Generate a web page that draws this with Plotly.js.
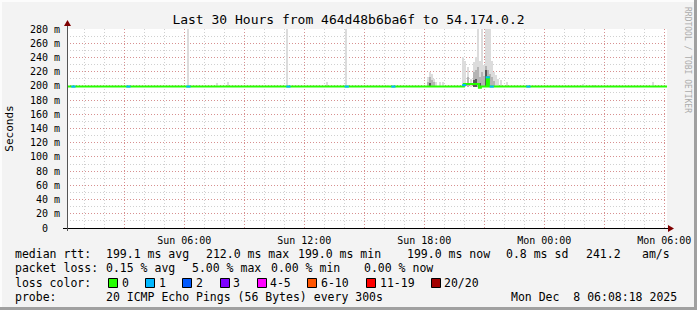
<!DOCTYPE html>
<html><head><meta charset="utf-8">
<script src="https://cdn.plot.ly/plotly-3.0.1.min.js"></script>
<style>
html,body{margin:0;padding:0;background:#f3f3f3;}
#wrap{position:relative;width:697px;height:310px;overflow:hidden;}
#chart{width:697px;height:310px;}
.edge{position:absolute;}
</style></head><body>
<div id="wrap"><div id="chart"></div>
<div class="edge" style="left:0;top:0;width:697px;height:2px;background:#fcfcfc"></div>
<div class="edge" style="left:0;top:0;width:2px;height:310px;background:#fcfcfc"></div>
<div class="edge" style="right:0;top:0;width:3px;height:310px;background:#a0a0a0"></div>
<div class="edge" style="left:0;bottom:0;width:697px;height:3px;background:#a0a0a0"></div>
</div>
<script>
// ---------------- data ----------------
const rangeStart = '2025-12-07 00:08:18';
const rangeEnd = '2025-12-08 06:08:18';
const stepSeconds = 300;

const medianTimes = ['2025-12-07 00:08:18','2025-12-07 19:59','2025-12-07 20:44','2025-12-07 20:50','2025-12-07 21:08','2025-12-07 21:14','2025-12-08 06:08:18'];
const medianValues = [199, 202.5, 197.5, 199, 212, 199, 199];

const lossTimes = ['2025-12-07 00:25','2025-12-07 03:10','2025-12-07 06:10','2025-12-07 11:10','2025-12-07 14:05','2025-12-07 16:25','2025-12-07 19:57','2025-12-07 21:08','2025-12-07 21:20','2025-12-07 23:10'];
const lossRtt = [199, 199, 199, 199, 199, 199, 201, 212, 199, 199];
const lossCount = [1, 1, 1, 1, 1, 1, 1, 1, 1, 1];

const smokeTimes = ['2025-12-07 06:11','2025-12-07 07:38','2025-12-07 08:11','2025-12-07 11:08','2025-12-07 13:08','2025-12-07 14:05','2025-12-07 16:11',
  '2025-12-07 18:11','2025-12-07 18:17','2025-12-07 18:23','2025-12-07 18:29','2025-12-07 18:35','2025-12-07 18:47','2025-12-07 18:56',
  '2025-12-07 19:56','2025-12-07 20:02','2025-12-07 20:11','2025-12-07 20:20','2025-12-07 20:29','2025-12-07 20:35','2025-12-07 20:41',
  '2025-12-07 20:47','2025-12-07 20:53','2025-12-07 20:59','2025-12-07 21:05','2025-12-07 21:11','2025-12-07 21:17','2025-12-07 21:23',
  '2025-12-07 21:29','2025-12-07 21:35','2025-12-07 21:41','2025-12-07 21:50','2025-12-07 22:08','2025-12-08 01:56','2025-12-08 02:29','2025-12-08 05:26'];
const smokeBase  = [199,199,199,199,199,199,199, 199,199,199,199,199,199,199, 199,199,199,199,199,199,199, 197,199,199,199,199,199,199, 199,199,199,199,199,199,199,199];
const smokeLight = [290,204,206,290,206,290,201.5, 212,219,216,210,206,206,205, 240,235,226,210,233,240,290, 235,290,230,290,290,290,235, 219,215,210,208,206,202.5,201.5,205.5];
const smokeMid   = [null,null,null,null,null,null,null, 205,212,208,205,null,null,null, null,null,212,null,220,222,226, 212,220,214,228,222,216,212, 207,null,null,null,null,null,null,null];
const smokeDark  = [null,null,null,null,null,null,null, null,204,null,null,null,null,null, null,null,null,null,208,210,null, 204,null,null,222,null,null,null, null,null,null,null,null,null,null,null];

const yTickVals = [0,20,40,60,80,100,120,140,160,180,200,220,240,260,280];
const yTickText = ['','20 m','40 m','60 m','80 m','100 m','120 m','140 m','160 m','180 m','200 m','220 m','240 m','260 m','280 m'];
const yZeroLabel = '0';
const xTickVals = ['2025-12-07 03:00','2025-12-07 06:00','2025-12-07 09:00','2025-12-07 12:00','2025-12-07 15:00','2025-12-07 18:00','2025-12-07 21:00','2025-12-08 00:00','2025-12-08 03:00','2025-12-08 06:00'];
const xTickText = ['','Sun 06:00','','Sun 12:00','','Sun 18:00','','Mon 00:00','','Mon 06:00'];

const lossLegendLabels = ['0','1','2','3','4-5','6-10','11-19','20/20'];
const lossLegendColors = ['#26ff00','#00b8ff','#0059ff','#7e00ff','#ff00ff','#ff5500','#ff0000','#a10000'];

const titleText = 'Last 30 Hours from 464d48b6ba6f to 54.174.0.2';
const statRows = [
  ['median rtt:', '199.1 ms avg', '212.0 ms max', '199.0 ms min', '199.0 ms now', '0.8 ms sd', '241.2', 'am/s'],
  ['packet loss:', '0.15 % avg', '5.00 % max', '0.00 % min', '0.00 % now'],
  ['probe:', '20 ICMP Echo Pings (56 Bytes) every 300s', 'Mon Dec  8 06:08:18 2025']
];

// ---------------- layout helpers ----------------
const L = 67, R = 667, T = 29, B = 228;
const px2x = p => (p - L) / (R - L);
const py2y = p => (B - p) / (B - T);
const MONO = 'DejaVu Sans Mono';

function addSec(s, sec) {
  const d = new Date(s.replace(' ', 'T') + (s.length === 16 ? ':00Z' : 'Z'));
  return new Date(d.getTime() + sec * 1000).toISOString().replace('T', ' ').slice(0, 19);
}

// ---------------- traces ----------------
const traces = [];
function smokeTrace(tops, color) {
  const xs = [], bs = [], hs = [];
  smokeTimes.forEach((t, i) => {
    if (tops[i] != null) { xs.push(t); bs.push(smokeBase[i]); hs.push(tops[i] - smokeBase[i]); }
  });
  return {type: 'bar', x: xs, base: bs, y: hs, width: 360000, marker: {color: color, line: {width: 0}}, hoverinfo: 'skip', showlegend: false};
}
traces.push(smokeTrace(smokeLight, '#dcdcdc'));
traces.push(smokeTrace(smokeMid, '#b4b4b4'));
traces.push(smokeTrace(smokeDark, '#585858'));

traces.push({type: 'scatter', mode: 'lines', x: medianTimes, y: medianValues,
  line: {shape: 'hv', color: '#26ff00', width: 2}, hoverinfo: 'skip', showlegend: false});

// loss-coloured pieces of the median line, one per probe step
const colorForLoss = n => n <= 0 ? lossLegendColors[0] : n === 1 ? lossLegendColors[1] : n === 2 ? lossLegendColors[2] :
  n === 3 ? lossLegendColors[3] : n <= 5 ? lossLegendColors[4] : n <= 10 ? lossLegendColors[5] : n <= 19 ? lossLegendColors[6] : lossLegendColors[7];
traces.push({type: 'scatter', mode: 'markers', x: lossTimes.map(t => addSec(t, stepSeconds / 2)), y: lossRtt,
  marker: {symbol: 'line-ew', size: 3, color: lossCount.map(colorForLoss), line: {color: lossCount.map(colorForLoss), width: 2}},
  hoverinfo: 'skip', showlegend: false, cliponaxis: true});

// ---------------- annotations & shapes ----------------
const annotations = [];
const shapes = [];
const FS = 11.5;
function txt(text, px, py, extra) {
  annotations.push(Object.assign({text: text, xref: 'paper', yref: 'paper', x: px2x(px - 2), y: py2y(py),
    xanchor: 'left', yanchor: 'middle', showarrow: false, borderpad: 0, font: {family: MONO, size: FS, color: '#000'}}, extra || {}));
}
const row1X = [16, 107, 207, 299, 408, 507, 587, 643];
statRows[0].forEach((s, i) => txt(s, row1X[i], 254));
const row2X = [16, 107, 193, 272, 365];
statRows[1].forEach((s, i) => txt(s, row2X[i], 268));
txt('loss color:', 16, 282.5);
const boxX = [108, 145, 182, 220, 257, 307, 366, 431];
const labX = [123, 160, 197, 234, 271, 322, 381, 445];
lossLegendLabels.forEach((lab, i) => {
  shapes.push({type: 'rect', xref: 'paper', yref: 'paper', x0: px2x(boxX[i] + 0.5), x1: px2x(boxX[i] + 9.5), y0: py2y(287.5), y1: py2y(278.5),
    fillcolor: lossLegendColors[i], line: {color: '#000', width: 1}});
  txt(lab, labX[i], 282.5);
});
const row4X = [16, 107, 512];
statRows[2].forEach((s, i) => txt(s.replace(/  /g, ' \u00a0'), row4X[i], 296.5));

// the "0" y label sits two character cells left of the other labels' right edge
annotations.push({text: yZeroLabel, xref: 'paper', yref: 'y', x: px2x(49), y: 0, xanchor: 'right', yanchor: 'middle',
  showarrow: false, borderpad: 0, font: {family: MONO, size: 10, color: '#000'}});

annotations.push({text: 'RRDTOOL / TOBI OETIKER', xref: 'paper', yref: 'paper', x: px2x(688), y: py2y(60),
  xanchor: 'center', yanchor: 'middle', textangle: 90, showarrow: false, font: {family: MONO, size: 8, color: '#ababab'}});

// axis lines & arrows
shapes.push({type: 'line', xref: 'paper', yref: 'paper', x0: px2x(63), x1: px2x(669), y0: py2y(228.5), y1: py2y(228.5), line: {color: '#000', width: 1}});
shapes.push({type: 'line', xref: 'paper', yref: 'paper', x0: px2x(67.5), x1: px2x(67.5), y0: py2y(231), y1: py2y(25), line: {color: '#555', width: 1}});
shapes.push({type: 'path', xref: 'paper', yref: 'paper',
  path: `M ${px2x(64)} ${py2y(26)} L ${px2x(71)} ${py2y(26)} L ${px2x(67.5)} ${py2y(20)} Z`, fillcolor: '#7f0000', line: {width: 0}});
shapes.push({type: 'path', xref: 'paper', yref: 'paper',
  path: `M ${px2x(668)} ${py2y(225)} L ${px2x(668)} ${py2y(232)} L ${px2x(674)} ${py2y(228.5)} Z`, fillcolor: '#7f0000', line: {width: 0}});

const MGRID = 'rgba(222,80,80,0.5)';
const GRID = 'rgba(150,150,150,0.45)';

const layout = {
  width: 697, height: 310,
  margin: {l: L, r: 697 - R, t: T, b: 310 - B, pad: 0},
  paper_bgcolor: '#f3f3f3', plot_bgcolor: '#ffffff',
  showlegend: false, barmode: 'overlay', bargap: 0,
  title: {text: titleText, font: {family: MONO, size: 13, color: '#000'}, x: 0.5, xref: 'container', xanchor: 'center',
    y: 1 - 19 / 310, yref: 'container', yanchor: 'middle'},
  xaxis: {type: 'date', range: [rangeStart, rangeEnd], tickmode: 'array', tickvals: xTickVals, ticktext: xTickText,
    showgrid: true, gridcolor: MGRID, griddash: '1px,2px', gridwidth: 1,
    ticks: 'outside', ticklen: 3, tickcolor: 'rgba(0,0,0,0)',
    tickfont: {family: MONO, size: 10, color: '#000'},
    minor: {tickmode: 'linear', tick0: '2025-12-07 00:00', dtick: 3600000, showgrid: true, gridcolor: GRID, griddash: '1px,2px', gridwidth: 1},
    showline: false, zeroline: false, fixedrange: true},
  yaxis: {range: [0, 280], tickmode: 'array', tickvals: yTickVals, ticktext: yTickText,
    showgrid: true, gridcolor: MGRID, griddash: '1px,2px', gridwidth: 1,
    ticks: 'outside', ticklen: 4, tickcolor: 'rgba(0,0,0,0)',
    tickfont: {family: MONO, size: 10, color: '#000'},
    minor: {tickmode: 'linear', tick0: 0, dtick: 10, showgrid: true, gridcolor: GRID, griddash: '1px,2px', gridwidth: 1},
    title: {text: 'Seconds', font: {family: MONO, size: 11, color: '#000'}, standoff: 14},
    showline: false, zeroline: false, fixedrange: true},
  annotations: annotations,
  shapes: shapes
};

Plotly.newPlot('chart', traces, layout, {staticPlot: true, displayModeBar: false});
</script>
</body></html>
